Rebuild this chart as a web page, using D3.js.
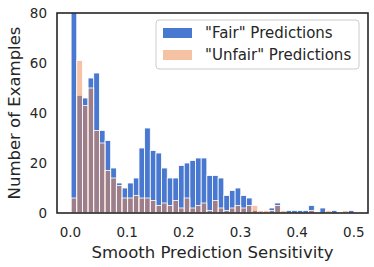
<!DOCTYPE html>
<html>
<head>
<meta charset="utf-8">
<script src="https://cdn.jsdelivr.net/npm/d3@7"></script>
<style>
  body { margin: 0; background: #fff; }
  text { font-family: "DejaVu Sans", sans-serif; fill: #262626; }
</style>
</head>
<body>
<div id="chart"></div>
<script>
// Chart size and plot frame.
const width = 374;
const height = 267;
const margin = { top: 13, right: 6, bottom: 54, left: 57 };

// Histogram bins (50 equal bins).
const binStart = 0.002;
const binWidth = 0.00998;

// Counts per bin. First "fair" bin runs past the top.
const fairCounts = [95, 47, 46, 54, 56, 33, 29, 18, 12, 10, 12, 14, 26, 34, 25, 24, 18, 14, 14, 19,
  20, 21, 22, 22, 15, 15, 14, 7, 9, 10, 7, 6, 1, 0, 0, 2, 4, 0, 1, 1,
  1, 1, 3, 0, 2, 0, 1, 0, 0, 1];
const unfairCounts = [6, 61, 43, 50, 33, 28, 17, 14, 11, 6, 6, 7, 6, 6, 5, 3, 4, 3, 5, 2,
  6, 2, 3, 4, 1, 5, 2, 1, 2, 3, 2, 3, 3, 1, 1, 1, 3, 1, 0, 0,
  0, 0, 1, 0, 0, 1, 0, 0, 1, 0];

const xTicks = [0, 0.1, 0.2, 0.3, 0.4, 0.5];
const yTicks = [0, 20, 40, 60, 80];
const seriesNames = ['"Fair" Predictions', '"Unfair" Predictions'];
const colors = ["#4878d0", "#ee854a"];

const svg = d3.select("#chart").append("svg")
  .attr("width", width)
  .attr("height", height);

const x = d3.scaleLinear()
  .domain([-0.0229, 0.5259])
  .range([margin.left, width - margin.right]);

const y = d3.scaleLinear()
  .domain([0, 80])
  .range([height - margin.bottom, margin.top]);

svg.append("clipPath").attr("id", "clip")
  .append("rect")
  .attr("x", margin.left)
  .attr("y", margin.top)
  .attr("width", width - margin.left - margin.right)
  .attr("height", height - margin.top - margin.bottom);

const plot = svg.append("g").attr("clip-path", "url(#clip)");

// Draw one series of bars.
function drawBars(counts, color, opacity) {
  plot.append("g")
    .selectAll("rect")
    .data(counts)
    .join("rect")
    .attr("x", (d, i) => x(binStart + i * binWidth))
    .attr("width", x(binWidth) - x(0))
    .attr("y", d => y(d))
    .attr("height", d => y(0) - y(d))
    .attr("fill", color)
    .attr("fill-opacity", opacity)
    .attr("stroke", "#fff")
    .attr("stroke-width", 0.8)
    .style("display", d => d > 0 ? null : "none");
}

drawBars(fairCounts, colors[0], 1);
drawBars(unfairCounts, colors[1], 0.5);

// Axes (no tick marks, labels only).
svg.append("g")
  .attr("transform", `translate(0,${height - margin.bottom})`)
  .call(d3.axisBottom(x).tickValues(xTicks).tickSize(0).tickPadding(14).tickFormat(d3.format(".1f")))
  .call(g => g.select(".domain").remove())
  .selectAll("text")
  .attr("font-size", 13.5)
  .attr("font-family", "DejaVu Sans");

svg.append("g")
  .attr("transform", `translate(${margin.left},0)`)
  .call(d3.axisLeft(y).tickValues(yTicks).tickSize(0).tickPadding(10))
  .call(g => g.select(".domain").remove())
  .selectAll("text")
  .attr("font-size", 13.5)
  .attr("font-family", "DejaVu Sans");

// Frame.
svg.append("rect")
  .attr("x", margin.left)
  .attr("y", margin.top)
  .attr("width", width - margin.left - margin.right)
  .attr("height", height - margin.top - margin.bottom)
  .attr("fill", "none")
  .attr("stroke", "#262626")
  .attr("stroke-width", 1.6);

// Axis titles.
svg.append("text")
  .attr("x", (margin.left + width - margin.right) / 2)
  .attr("y", 258)
  .attr("text-anchor", "middle")
  .attr("font-size", 16.5)
  .text("Smooth Prediction Sensitivity");

svg.append("text")
  .attr("transform", `translate(20,${(margin.top + height - margin.bottom) / 2}) rotate(-90)`)
  .attr("text-anchor", "middle")
  .attr("font-size", 16.5)
  .text("Number of Examples");

// Legend.
const legend = svg.append("g");
legend.append("rect")
  .attr("x", 156).attr("y", 20)
  .attr("width", 203).attr("height", 49)
  .attr("rx", 3)
  .attr("fill", "#fff").attr("fill-opacity", 0.8)
  .attr("stroke", "#cccccc").attr("stroke-width", 1);

seriesNames.forEach((name, i) => {
  const cy = 33 + i * 22;
  legend.append("rect")
    .attr("x", 163).attr("y", cy - 5)
    .attr("width", 29).attr("height", 10)
    .attr("fill", colors[i])
    .attr("fill-opacity", i === 0 ? 1 : 0.5);
  legend.append("text")
    .attr("x", 205).attr("y", cy + 5.4)
    .attr("font-size", 15)
    .text(name);
});
</script>
</body>
</html>
